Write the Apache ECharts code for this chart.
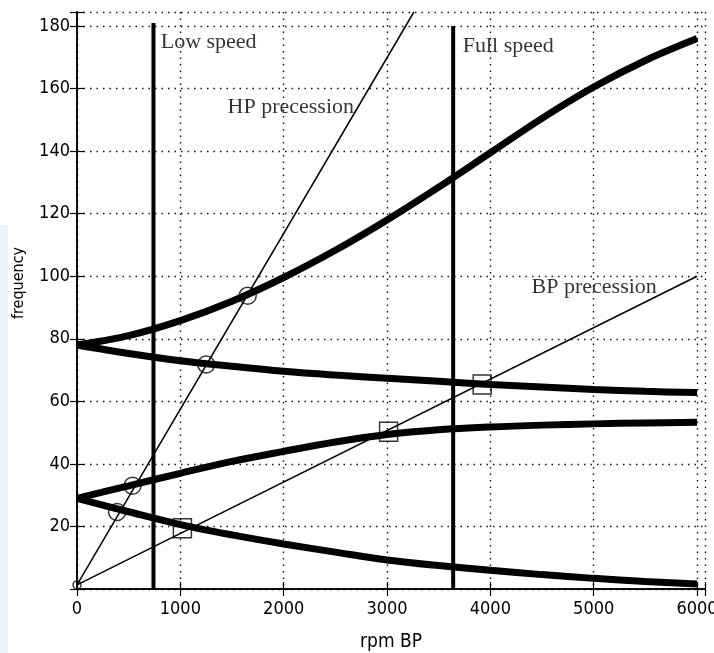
<!DOCTYPE html>
<html>
<head>
<meta charset="utf-8">
<script src="https://cdn.jsdelivr.net/npm/echarts@6/dist/echarts.min.js"></script>
<style>
  html, body { margin: 0; padding: 0; background: #fff; }
  #main { width: 714px; height: 653px; }
</style>
</head>
<body>
<div id="main"></div>
<script>
// rpm BP sample points
var rpm = [0, 500, 1000, 1500, 2000, 2500, 3000, 3500, 4000, 4500, 5000, 5500, 6000];
// four whirl modes (frequency)
var mode1 = [78, 81, 85.8, 92, 99.6, 108.3, 118, 128.5, 139.5, 150.5, 160.5, 169, 176];
var mode2 = [78, 75.3, 73, 71.2, 69.6, 68.4, 67.4, 66.4, 65.4, 64.6, 63.8, 63.2, 62.8];
var mode3 = [29, 33, 37, 40.8, 44, 47, 49.4, 50.9, 51.8, 52.4, 52.8, 53.1, 53.3];
var mode4 = [29, 24.7, 20.6, 17.3, 14.4, 11.8, 9.3, 7.5, 6, 4.6, 3.4, 2.4, 1.6];
// precession lines (start, end)
var hpLine = [[0, 1.3], [3260, 184.5]];
var bpLine = [[0, 1.3], [6000, 100]];
// speed limits
var lowSpeed = 740, lowTop = 181;
var fullSpeed = 3640, fullTop = 180;
// crossings
var circles = [[388, 24.6], [537, 33], [1250, 71.8], [1652, 93.8]];
var squares = [[1020, 19.4], [3015, 50.3], [3921, 65.4]];
var origin = [[0, 1.3]];
// annotations
var notes = [
  { name: "Low speed", value: [810, 174.7] },
  { name: "HP precession", value: [1457, 153.9] },
  { name: "Full speed", value: [3733, 173.4] },
  { name: "BP precession", value: [4399, 96.6] }
];
var xTicks = { min: 0, max: 6077, step: 1000 };
var yTicks = { min: 0, max: 184.5, step: 20 };

function zip(xs, ys) {
  return xs.map(function (x, i) { return [x, ys[i]]; });
}

var tickFont = "'DejaVu Sans Condensed', 'DejaVu Sans', sans-serif";
var serif = "'Liberation Serif', 'DejaVu Serif', serif";

var mychart = echarts.init(document.getElementById("main"));

function thick(data) {
  return {
    type: "line",
    data: data,
    smooth: 0.35,
    symbol: "none",
    lineStyle: { color: "#000", width: 7 },
    z: 3,
  };
}
function thin(data, w) {
  return {
    type: "line",
    data: data,
    symbol: "none",
    lineStyle: { color: "#000", width: w },
    z: 4,
  };
}

var axisCommon = {
  axisLine: { show: true, lineStyle: { color: "#000", width: 1.5 } },
  axisTick: { show: true, inside: true, length: 7, lineStyle: { color: "#000", width: 1.2 } },
};
var gridDots = { show: true, lineStyle: { color: "#111", width: 1.4, type: [1.5, 5] } };

var option = {
  backgroundColor: "#fff",
  animation: false,
  grid: { left: 77, right: 9, top: 12, bottom: 64, outerBoundsMode: "none", containLabel: false },
  graphic: [
    {
      type: "rect",
      shape: { x: 0, y: 225, width: 8, height: 428 },
      style: { fill: "#eef1f6" },
      z: -1,
    },
    {
      type: "text",
      x: 19,
      y: 283,
      rotation: Math.PI / 2,
      style: {
        text: "frequency",
        align: "center",
        verticalAlign: "middle",
        font: "16px " + tickFont,
        fill: "#000",
      },
    },
  ],
  xAxis: [
    Object.assign({}, axisCommon, {
      type: "value",
      min: xTicks.min,
      max: xTicks.max,
      interval: xTicks.step,
      position: "bottom",
      name: "rpm BP",
      nameLocation: "middle",
      nameGap: 44,
      nameTextStyle: { fontFamily: tickFont, fontSize: 19, color: "#000" },
      axisLabel: {
        margin: 11,
        fontFamily: tickFont,
        fontSize: 18,
        color: "#000",
        formatter: function (v) { return v % 1000 === 0 ? String(v) : ""; },
      },
      splitLine: gridDots,
    }),
    Object.assign({}, axisCommon, {
      type: "value",
      min: xTicks.min,
      max: xTicks.max,
      interval: xTicks.step,
      position: "top",
      axisLabel: { show: false },
      splitLine: { show: false },
    }),
  ],
  yAxis: [
    Object.assign({}, axisCommon, {
      type: "value",
      min: yTicks.min,
      max: yTicks.max,
      interval: yTicks.step,
      position: "left",
      axisLabel: {
        margin: 7,
        fontFamily: tickFont,
        fontSize: 18,
        color: "#000",
        formatter: function (v) { return v > 0 && v % 20 === 0 ? String(v) : ""; },
      },
      splitLine: gridDots,
    }),
    Object.assign({}, axisCommon, {
      type: "value",
      min: yTicks.min,
      max: yTicks.max,
      interval: yTicks.step,
      position: "right",
      axisLabel: { show: false },
      splitLine: { show: false },
    }),
  ],
  series: [
    thick(zip(rpm, mode1)),
    thick(zip(rpm, mode2)),
    thick(zip(rpm, mode3)),
    thick(zip(rpm, mode4)),
    thin(hpLine, 1.5),
    thin(bpLine, 1.5),
    thin([[lowSpeed, 0], [lowSpeed, lowTop]], 4),
    thin([[fullSpeed, 0], [fullSpeed, fullTop]], 4),
    {
      type: "scatter",
      data: circles,
      symbol: "circle",
      symbolSize: 17,
      itemStyle: { color: "rgba(255,255,255,0)", borderColor: "#000", borderWidth: 1.5 },
      z: 6,
    },
    {
      type: "scatter",
      data: squares,
      symbol: "rect",
      symbolSize: [18, 19],
      itemStyle: { color: "rgba(255,255,255,0)", borderColor: "#000", borderWidth: 1.5 },
      z: 6,
    },
    {
      type: "scatter",
      data: origin,
      symbol: "circle",
      symbolSize: 8,
      itemStyle: { color: "rgba(255,255,255,0)", borderColor: "#000", borderWidth: 1.5 },
      z: 6,
    },
    {
      type: "scatter",
      data: notes,
      symbolSize: 0,
      label: {
        show: true,
        position: "right",
        distance: 0,
        formatter: "{b}",
        fontFamily: serif,
        fontSize: 22,
        color: "#000",
      },
      z: 7,
    },
  ],
};
mychart.setOption(option);
</script>
</body>
</html>
